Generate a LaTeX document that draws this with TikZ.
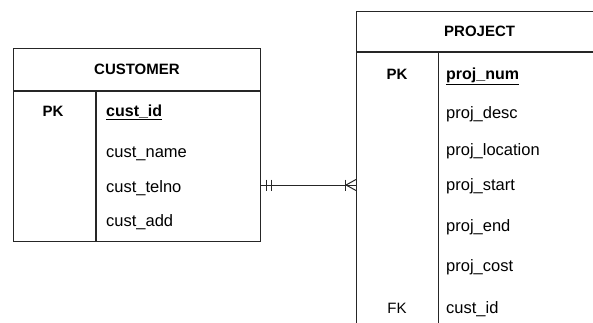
\documentclass[tikz,border=0pt]{standalone}
\usepackage{fontspec}
\setmainfont{Liberation Sans}
\begin{document}
\begin{tikzpicture}[x=1pt,y=-1pt,
  box/.style={draw=black!85, line width=1.2pt, inner sep=0pt, anchor=north west},
  hdr/.style={font=\fontsize{15}{15}\selectfont\bfseries},
  key/.style={font=\fontsize{15}{15}\selectfont\bfseries, anchor=base, inner sep=0pt},
  fld/.style={font=\fontsize{16.5}{16.5}\selectfont, anchor=base west, inner sep=0pt},
  ln/.style={draw=black!85, line width=1.2pt},
  rel/.style={draw=black!85, line width=1pt}]
\useasboundingbox (0,0) rectangle (593,322);
\clip (0,0) rectangle (593,322);
% CUSTOMER
\node[box, minimum width=247.3pt, minimum height=42pt, hdr] (custhead) at (12.7,48) {CUSTOMER};
\node[box, minimum width=247.3pt, minimum height=150pt] (cust) at (custhead.south west) {};
\draw[ln] (cust.north west -| 96,0) -- (cust.south west -| 96,0);
\node[key] (cpk) at (53,116) {PK};
\node[fld, font=\fontsize{16}{16}\selectfont] (cid) at (106,116) {\bfseries\underline{cust\_id}};
\node[fld] (cname) at (106,157) {cust\_name};
\node[fld] (ctel) at (106,192) {cust\_telno};
\node[fld] (cadd) at (106,226) {cust\_add};
% PROJECT
\node[box, minimum width=246pt, minimum height=40pt, hdr] (projhead) at (356,11) {PROJECT};
\node[box, minimum width=246pt, minimum height=300pt] (proj) at (projhead.south west) {};
\draw[ln] (proj.north west -| 438.3,0) -- (proj.south west -| 438.3,0);
\node[key] (ppk) at (397,79) {PK};
\node[fld, font=\fontsize{16}{16}\selectfont] (pnum) at (446,79) {\bfseries\underline{proj\_num}};
\node[fld] (pdesc) at (446,118) {proj\_desc};
\node[fld] (ploc) at (446,155) {proj\_location};
\node[fld] (pstart) at (446,190) {proj\_start};
\node[fld] (pend) at (446,231) {proj\_end};
\node[fld] (pcost) at (446,271) {proj\_cost};
\node[key, font=\fontsize{15}{15}\selectfont] (pfk) at (397,313) {FK};
\node[fld] (pcid) at (446,313) {cust\_id};
% relationship
\coordinate (j) at (300,185);
\coordinate (ce) at (cust.east |- j);
\coordinate (pw) at (proj.west |- j);
\draw[rel] (ce) -- (pw);
\draw[rel] ([xshift=5pt]ce) ++(0,-5.5) -- ++(0,11);
\draw[rel] ([xshift=10pt]ce) ++(0,-5.5) -- ++(0,11);
\draw[rel] ([xshift=-11pt]pw) ++(0,-5.5) -- ++(0,11);
\draw[rel] ([xshift=-10pt]pw) -- ([yshift=-5.5pt]pw);
\draw[rel] ([xshift=-10pt]pw) -- ([yshift=5.5pt]pw);
\end{tikzpicture}
\end{document}
